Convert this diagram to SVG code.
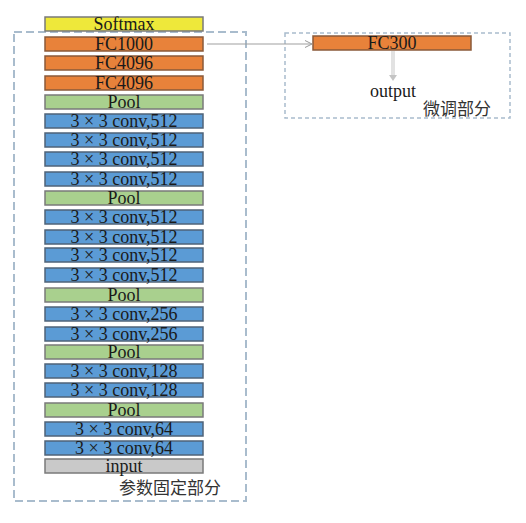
<svg xmlns="http://www.w3.org/2000/svg" width="526" height="523" viewBox="0 0 526 523">
<style>
.b{stroke:#7a7a7a;stroke-width:1.5}
.sm{fill:#eee83a}
.fc{fill:#e8823a;stroke:#8a5a3a}
.pl{fill:#a9d08e}
.cv{fill:#5b9bd5;stroke:#4f6378}
.in{fill:#c9c9c9}
.t{font-family:"Liberation Serif","Times New Roman",serif;font-size:18px;fill:#1a1a1a;text-anchor:middle}
.cn{font-family:"Noto Sans CJK SC",sans-serif;font-size:17px;fill:#333}
</style>
<defs>
<marker id="ah" markerWidth="8" markerHeight="8" refX="7" refY="4" orient="auto" markerUnits="userSpaceOnUse">
<path d="M0,0.5 L7,4 L0,7.5" fill="none" stroke="#999" stroke-width="1"/>
</marker>
</defs>
<rect x="14" y="32" width="232" height="469" fill="none" stroke="#a9bccd" stroke-width="2" stroke-dasharray="8 4"/>
<rect x="285" y="33" width="225" height="85" fill="none" stroke="#a9bccd" stroke-width="1.5" stroke-dasharray="4 3"/>
<g id="softmax"><rect class="b sm" x="45" y="17" width="158" height="14"/><text class="t" x="124" y="30">Softmax</text></g>
<g id="fc1000"><rect class="b fc" x="45" y="37" width="158" height="14"/><text class="t" x="124" y="50">FC1000</text></g>
<g id="fc4096a"><rect class="b fc" x="45" y="56" width="158" height="14"/><text class="t" x="124" y="69">FC4096</text></g>
<g id="fc4096b"><rect class="b fc" x="45" y="76" width="158" height="14"/><text class="t" x="124" y="89">FC4096</text></g>
<g id="pool5"><rect class="b pl" x="45" y="95" width="158" height="14"/><text class="t" x="124" y="108">Pool</text></g>
<g id="conv5_4"><rect class="b cv" x="45" y="114" width="158" height="14"/><text class="t" x="124" y="127">3 × 3 conv,512</text></g>
<g id="conv5_3"><rect class="b cv" x="45" y="133" width="158" height="14"/><text class="t" x="124" y="146">3 × 3 conv,512</text></g>
<g id="conv5_2"><rect class="b cv" x="45" y="152" width="158" height="14"/><text class="t" x="124" y="165">3 × 3 conv,512</text></g>
<g id="conv5_1"><rect class="b cv" x="45" y="172" width="158" height="14"/><text class="t" x="124" y="185">3 × 3 conv,512</text></g>
<g id="pool4"><rect class="b pl" x="45" y="191" width="158" height="14"/><text class="t" x="124" y="204">Pool</text></g>
<g id="conv4_4"><rect class="b cv" x="45" y="210" width="158" height="14"/><text class="t" x="124" y="223">3 × 3 conv,512</text></g>
<g id="conv4_3"><rect class="b cv" x="45" y="230" width="158" height="14"/><text class="t" x="124" y="243">3 × 3 conv,512</text></g>
<g id="conv4_2"><rect class="b cv" x="45" y="248" width="158" height="14"/><text class="t" x="124" y="261">3 × 3 conv,512</text></g>
<g id="conv4_1"><rect class="b cv" x="45" y="268" width="158" height="14"/><text class="t" x="124" y="281">3 × 3 conv,512</text></g>
<g id="pool3"><rect class="b pl" x="45" y="288" width="158" height="14"/><text class="t" x="124" y="301">Pool</text></g>
<g id="conv3_2"><rect class="b cv" x="45" y="307" width="158" height="14"/><text class="t" x="124" y="320">3 × 3 conv,256</text></g>
<g id="conv3_1"><rect class="b cv" x="45" y="327" width="158" height="14"/><text class="t" x="124" y="340">3 × 3 conv,256</text></g>
<g id="pool2"><rect class="b pl" x="45" y="345" width="158" height="14"/><text class="t" x="124" y="358">Pool</text></g>
<g id="conv2_2"><rect class="b cv" x="45" y="364" width="158" height="14"/><text class="t" x="124" y="377">3 × 3 conv,128</text></g>
<g id="conv2_1"><rect class="b cv" x="45" y="383" width="158" height="14"/><text class="t" x="124" y="396">3 × 3 conv,128</text></g>
<g id="pool1"><rect class="b pl" x="45" y="403" width="158" height="14"/><text class="t" x="124" y="416">Pool</text></g>
<g id="conv1_2"><rect class="b cv" x="45" y="422" width="158" height="14"/><text class="t" x="124" y="435">3 × 3 conv,64</text></g>
<g id="conv1_1"><rect class="b cv" x="45" y="441" width="158" height="14"/><text class="t" x="124" y="454">3 × 3 conv,64</text></g>
<g id="input"><rect class="b in" x="45" y="459" width="158" height="14"/><text class="t" x="124" y="472">input</text></g>
<g id="fc300"><rect class="b fc" x="313" y="36" width="158" height="14"/><text class="t" x="392" y="49">FC300</text></g>
<g id="output"><text class="t" x="393" y="97">output</text></g>
<text class="cn" x="423" y="115">微调部分</text>
<text class="cn" x="119" y="494">参数固定部分</text>
<g id="connectors">
<line x1="207" y1="44" x2="312" y2="44" stroke="#a0a0a0" stroke-width="1.2" marker-end="url(#ah)"/>
<rect x="391" y="51" width="4" height="25" fill="#e2e2e2"/>
<path d="M389,75 L397,75 L393,81 Z" fill="#c4c4c4"/>
</g>
</svg>
